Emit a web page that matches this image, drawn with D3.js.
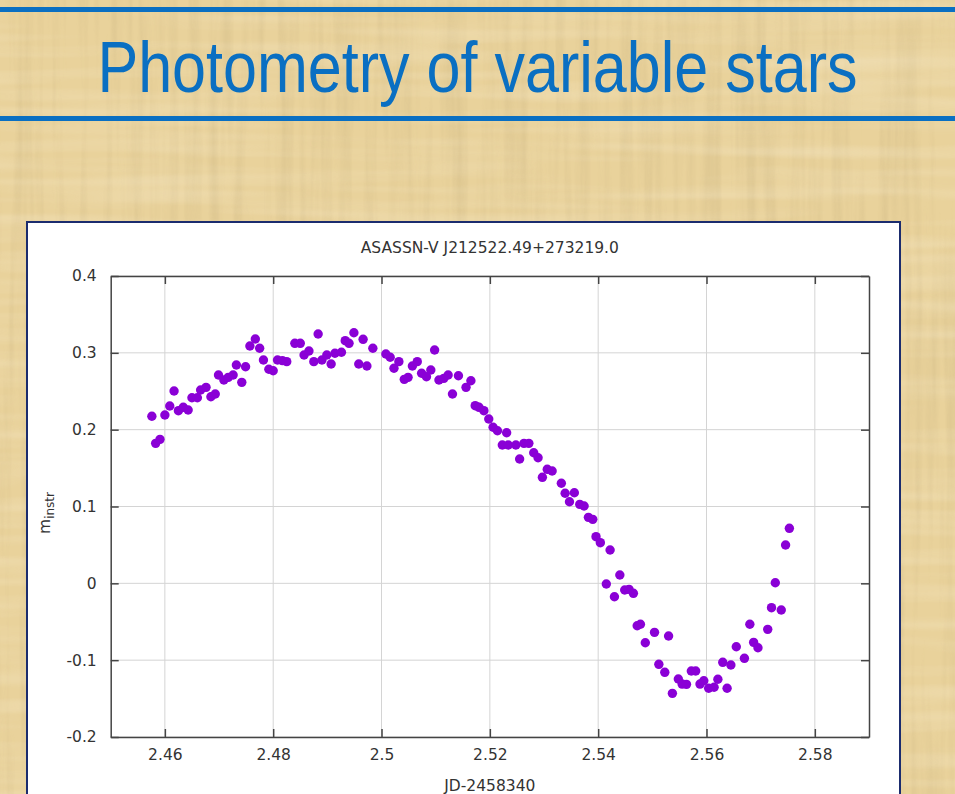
<!DOCTYPE html>
<html>
<head>
<meta charset="utf-8">
<script src="https://cdn.jsdelivr.net/npm/d3@7"></script>
<style>
html,body{margin:0;padding:0;background:#E8D19A;overflow:hidden;}
svg{display:block;}
</style>
</head>
<body>
<script>
// ---- data ----
const chartTitle = "ASASSN-V J212522.49+273219.0";
const pageTitle = "Photometry of variable stars";
const xLabel = "JD-2458340";
const xTicks = [2.46, 2.48, 2.50, 2.52, 2.54, 2.56, 2.58];
const xTickLabels = ["2.46", "2.48", "2.5", "2.52", "2.54", "2.56", "2.58"];
const yTicks = [-0.2, -0.1, 0, 0.1, 0.2, 0.3, 0.4];
const yTickLabels = ["-0.2", "-0.1", "0", "0.1", "0.2", "0.3", "0.4"];
const jd = [2.4576,2.4583,2.4591,2.4600,2.4609,2.4617,2.4625,2.4634,2.4643,2.4650,2.4660,2.4666,2.4676,2.4685,2.4693,2.4699,2.4709,2.4717,2.4726,2.4732,
2.4742,2.4749,2.4757,2.4767,2.4775,2.4782,2.4792,2.4800,2.4808,2.4817,2.4825,2.4840,2.4850,2.4857,2.4866,2.4875,2.4883,2.4890,2.4899,2.4907,
2.4914,2.4926,2.4933,2.4940,2.4949,2.4958,2.4966,2.4973,2.4984,2.5008,2.5016,2.5023,2.5032,2.5042,2.5049,2.5057,2.5066,2.5074,2.5083,2.5091,
2.5098,2.5106,2.5115,2.5123,2.5131,2.5142,2.5156,2.5165,2.5173,2.5180,2.5189,2.5198,2.5206,2.5214,2.5223,2.5231,2.5234,2.5248,2.5255,2.5263,
2.5272,2.5281,2.5289,2.5297,2.5306,2.5315,2.5332,2.5339,2.5347,2.5356,2.5366,2.5374,2.5382,2.5390,2.5396,2.5404,2.5422,2.5415,2.5440,2.5430,
2.5449,2.5457,2.5465,2.5472,2.5478,2.5487,2.5504,2.5530,2.5512,2.5523,2.5537,2.5548,2.5555,2.5563,2.5572,2.5580,2.5588,2.5595,2.5604,2.5614,
2.5621,2.5638,2.5630,2.5645,2.5655,2.5670,2.5680,2.5687,2.5695,2.5713,2.5720,2.5738,2.5727,2.5746,2.5753];
const mInstr = [0.2174,0.1822,0.1874,0.2191,0.2308,0.2503,0.2247,0.2291,0.2256,0.2416,0.2416,0.2516,0.2551,0.2429,0.2464,0.2711,0.2646,0.2681,0.2711,0.2842,
0.2616,0.2819,0.3089,0.3180,0.3059,0.2907,0.2786,0.2767,0.2907,0.2898,0.2885,0.3124,0.3124,0.2972,0.3024,0.2885,0.3245,0.2907,0.2972,0.2855,
0.2994,0.3007,0.3158,0.3124,0.3262,0.2855,0.3176,0.2829,0.3059,0.2985,0.2942,0.2799,0.2885,0.2655,0.2681,0.2829,0.2885,0.2734,0.2689,0.2776,
0.3037,0.2646,0.2668,0.2711,0.2464,0.2702,0.2551,0.2637,0.2312,0.2291,0.2247,0.2139,0.2031,0.1986,0.1800,0.1960,0.1800,0.1800,0.1618,0.1822,
0.1822,0.1700,0.1635,0.1380,0.1484,0.1462,0.1302,0.1172,0.1062,0.1179,0.1028,0.1006,0.0859,0.0833,0.0607,0.0529,0.0434,-0.0009,0.0108,-0.0174,
-0.0087,-0.0078,-0.0130,-0.0552,-0.0533,-0.0773,-0.0638,-0.0686,-0.1054,-0.1158,-0.1432,-0.1245,-0.1311,-0.1315,-0.1141,-0.1141,-0.1311,-0.1268,-0.1366,-0.1353,
-0.1249,-0.1366,-0.1028,-0.1063,-0.0825,-0.0976,-0.0533,-0.0768,-0.0838,-0.0599,-0.0317,-0.0347,0.0008,0.0499,0.0716];

const W = 955, H = 794;
const svg = d3.select("body").append("svg").attr("width", W).attr("height", H);

// ---- papyrus background ----
const defs = svg.append("defs");
const f = defs.append("filter").attr("id","fib").attr("x",0).attr("y",0).attr("width","100%").attr("height","100%");
f.append("feTurbulence").attr("type","fractalNoise").attr("baseFrequency","0.09 0.004").attr("numOctaves",3).attr("seed",4).attr("result","n");
f.append("feColorMatrix").attr("in","n").attr("type","matrix")
  .attr("values","0 0 0 0 0.55  0 0 0 0 0.42  0 0 0 0 0.2  0 0 0 1.1 -0.45");
const f2 = defs.append("filter").attr("id","fib2").attr("x",0).attr("y",0).attr("width","100%").attr("height","100%");
f2.append("feTurbulence").attr("type","fractalNoise").attr("baseFrequency","0.004 0.07").attr("numOctaves",2).attr("seed",9).attr("result","n");
f2.append("feColorMatrix").attr("in","n").attr("type","matrix")
  .attr("values","0 0 0 0 1  0 0 0 0 0.96  0 0 0 0 0.85  0 0 0 0.9 -0.35");
svg.append("rect").attr("width",W).attr("height",H).attr("fill","#E9D29B");
svg.append("rect").attr("width",W).attr("height",H).attr("filter","url(#fib)").attr("opacity",0.55);
svg.append("rect").attr("width",W).attr("height",H).attr("filter","url(#fib2)").attr("opacity",0.5);

// ---- header ----
svg.append("rect").attr("x",0).attr("y",7).attr("width",W).attr("height",5).attr("fill","#0A6FC2");
svg.append("rect").attr("x",0).attr("y",116).attr("width",W).attr("height",5).attr("fill","#0A6FC2");
svg.append("text").attr("transform","translate(477.5,92) scale(0.848,1)")
  .attr("text-anchor","middle")
  .attr("font-family","Liberation Sans, Arial, sans-serif").attr("font-size",72)
  .attr("fill","#0A6FC2").text(pageTitle);

// ---- chart panel ----
svg.append("rect").attr("x",27).attr("y",222).attr("width",873).attr("height",600)
  .attr("fill","#fff").attr("stroke","#1B2C6E").attr("stroke-width",2);

const L = 110.7, R = 869, T = 276, B = 737;
const x = d3.scaleLinear().domain([2.45, 2.59]).range([L, R]);
const y = d3.scaleLinear().domain([-0.2, 0.4]).range([B, T]);

const g = svg.append("g");
// grid
g.selectAll(".gx").data(xTicks).join("line")
  .attr("x1",d=>x(d)).attr("x2",d=>x(d)).attr("y1",T).attr("y2",B)
  .attr("stroke","#d4d4d4").attr("stroke-width",1);
g.selectAll(".gy").data(yTicks).join("line")
  .attr("y1",d=>y(d)).attr("y2",d=>y(d)).attr("x1",L).attr("x2",R)
  .attr("stroke","#d4d4d4").attr("stroke-width",1);

const font = "DejaVu Sans, sans-serif";
const axB = g.append("g").attr("transform",`translate(0,${B})`)
  .call(d3.axisBottom(x).tickValues(xTicks).tickFormat((d,i)=>xTickLabels[i]).tickSizeInner(-8).tickSizeOuter(0).tickPadding(12));
const axT = g.append("g").attr("transform",`translate(0,${T})`)
  .call(d3.axisTop(x).tickValues(xTicks).tickFormat("").tickSizeInner(-8).tickSizeOuter(0));
const axL = g.append("g").attr("transform",`translate(${L},0)`)
  .call(d3.axisLeft(y).tickValues(yTicks).tickFormat((d,i)=>yTickLabels[i]).tickSizeInner(-8).tickSizeOuter(0).tickPadding(14));
const axR = g.append("g").attr("transform",`translate(${R},0)`)
  .call(d3.axisRight(y).tickValues(yTicks).tickFormat("").tickSizeInner(-8).tickSizeOuter(0));
[axB,axT,axL,axR].forEach(a=>{
  a.select(".domain").attr("stroke","#444").attr("stroke-width",1.5);
  a.selectAll(".tick line").attr("stroke","#444").attr("stroke-width",1.5);
  a.selectAll("text").attr("font-family",font).attr("font-size",15.5).attr("fill","#333");
});

// points
g.selectAll("circle.pt").data(jd).join("circle").attr("class","pt")
  .attr("cx",d=>x(d)).attr("cy",(d,i)=>y(mInstr[i])).attr("r",4.7)
  .attr("fill","#8A00D6");

// titles
svg.append("text").attr("x",(L+R)/2).attr("y",253).attr("text-anchor","middle")
  .attr("font-family",font).attr("font-size",15.5).attr("fill","#333").text(chartTitle);
svg.append("text").attr("x",(L+R)/2).attr("y",791).attr("text-anchor","middle")
  .attr("font-family",font).attr("font-size",15.5).attr("fill","#333").text(xLabel);
const yl = svg.append("text").attr("transform","translate(50,513) rotate(-90)").attr("text-anchor","middle")
  .attr("font-family",font).attr("font-size",15.5).attr("fill","#333");
yl.append("tspan").text("m");
yl.append("tspan").attr("dy",4).attr("font-size",12).text("instr");
</script>
</body>
</html>
